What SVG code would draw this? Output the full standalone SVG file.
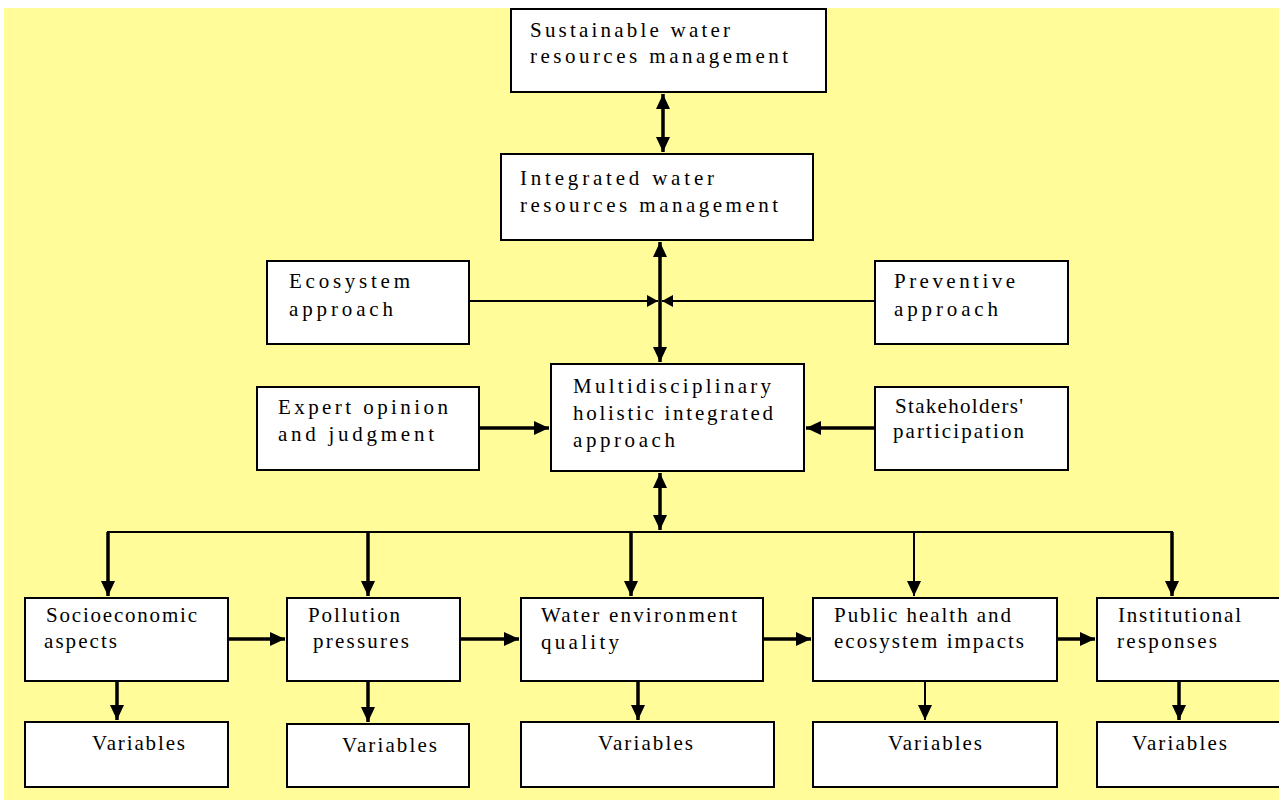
<svg xmlns="http://www.w3.org/2000/svg" width="1279" height="802" viewBox="0 0 1279 802">
<style>
.bg{fill:#FFFC99}
.box{fill:#fff;stroke:#000;stroke-width:2}
.c{stroke:#000;fill:none}
.t3{stroke-width:3.5}
.t2{stroke-width:2}
.lbl{font-family:'Liberation Serif','DejaVu Serif',serif;font-size:21px;fill:#000}
</style>
<defs>
<marker id="ah" markerUnits="userSpaceOnUse" markerWidth="16" markerHeight="14" refX="15" refY="7" orient="auto-start-reverse">
<path d="M0,0 L15,7 L0,14 z" fill="#000"/>
</marker>
<marker id="ahs" markerUnits="userSpaceOnUse" markerWidth="12" markerHeight="12" refX="11" refY="6" orient="auto-start-reverse">
<path d="M0,0 L11,6 L0,12 z" fill="#000"/>
</marker>
</defs>
<rect x="0" y="0" width="1279" height="802" fill="#fff"/>
<rect class="bg" x="4" y="8" width="1275" height="792"/>

<g id="connectors">
<line class="c t3" x1="663" y1="94" x2="663" y2="152" marker-start="url(#ah)" marker-end="url(#ah)"/>
<line class="c t3" x1="660" y1="242" x2="660" y2="362" marker-start="url(#ah)" marker-end="url(#ah)"/>
<line class="c t2" x1="469" y1="301" x2="658" y2="301" marker-end="url(#ahs)"/>
<line class="c t2" x1="875" y1="301" x2="662" y2="301" marker-end="url(#ahs)"/>
<line class="c t3" x1="479" y1="428" x2="549" y2="428" marker-end="url(#ah)"/>
<line class="c t3" x1="875" y1="428" x2="806" y2="428" marker-end="url(#ah)"/>
<line class="c t3" x1="660" y1="473" x2="660" y2="530" marker-start="url(#ah)" marker-end="url(#ah)"/>
<polyline class="c t2" points="108,596 108,532 1172,532 1172,596"/>
<line class="c t3" x1="108" y1="532" x2="108" y2="596" marker-end="url(#ah)"/>
<line class="c t3" x1="368" y1="532" x2="368" y2="596" marker-end="url(#ah)"/>
<line class="c t3" x1="631" y1="532" x2="631" y2="596" marker-end="url(#ah)"/>
<line class="c t2" x1="914" y1="532" x2="914" y2="596" marker-end="url(#ah)"/>
<line class="c t3" x1="1172" y1="532" x2="1172" y2="596" marker-end="url(#ah)"/>
<line class="c t3" x1="228" y1="639" x2="285" y2="639" marker-end="url(#ah)"/>
<line class="c t3" x1="460" y1="639" x2="519" y2="639" marker-end="url(#ah)"/>
<line class="c t3" x1="763" y1="639" x2="811" y2="639" marker-end="url(#ah)"/>
<line class="c t3" x1="1055" y1="639" x2="1095" y2="639" marker-end="url(#ah)"/>
<line class="c t3" x1="117" y1="681" x2="117" y2="720" marker-end="url(#ah)"/>
<line class="c t3" x1="368" y1="681" x2="368" y2="722" marker-end="url(#ah)"/>
<line class="c t3" x1="638" y1="681" x2="638" y2="720" marker-end="url(#ah)"/>
<line class="c t2" x1="925" y1="681" x2="925" y2="720" marker-end="url(#ah)"/>
<line class="c t3" x1="1179" y1="681" x2="1179" y2="720" marker-end="url(#ah)"/>
</g>

<g id="n-swrm">
<rect class="box" x="511" y="9" width="315" height="83"/>
<text class="lbl" x="530" y="37" textLength="200" lengthAdjust="spacing">Sustainable water</text>
<text class="lbl" x="530" y="63" textLength="258" lengthAdjust="spacing">resources management</text>
</g>
<g id="n-iwrm">
<rect class="box" x="501" y="154" width="312" height="86"/>
<text class="lbl" x="520" y="185" textLength="194" lengthAdjust="spacing">Integrated water</text>
<text class="lbl" x="520" y="212" textLength="258" lengthAdjust="spacing">resources management</text>
</g>
<g id="n-eco">
<rect class="box" x="267" y="261" width="202" height="83"/>
<text class="lbl" x="289" y="288" textLength="121" lengthAdjust="spacing">Ecosystem</text>
<text class="lbl" x="289" y="316" textLength="104" lengthAdjust="spacing">approach</text>
</g>
<g id="n-prev">
<rect class="box" x="875" y="261" width="193" height="83"/>
<text class="lbl" x="894" y="288" textLength="121" lengthAdjust="spacing">Preventive</text>
<text class="lbl" x="894" y="316" textLength="104" lengthAdjust="spacing">approach</text>
</g>
<g id="n-multi">
<rect class="box" x="551" y="364" width="253" height="107"/>
<text class="lbl" x="573" y="393" textLength="198" lengthAdjust="spacing">Multidisciplinary</text>
<text class="lbl" x="573" y="420" textLength="200" lengthAdjust="spacing">holistic integrated</text>
<text class="lbl" x="573" y="447" textLength="102" lengthAdjust="spacing">approach</text>
</g>
<g id="n-expert">
<rect class="box" x="257" y="387" width="222" height="83"/>
<text class="lbl" x="278" y="414" textLength="170" lengthAdjust="spacing">Expert opinion</text>
<text class="lbl" x="278" y="441" textLength="156" lengthAdjust="spacing">and judgment</text>
</g>
<g id="n-stake">
<rect class="box" x="875" y="387" width="193" height="83"/>
<text class="lbl" x="895" y="413" textLength="128" lengthAdjust="spacing">Stakeholders'</text>
<text class="lbl" x="893" y="438" textLength="131" lengthAdjust="spacing">participation</text>
</g>
<g id="n-socio">
<rect class="box" x="25" y="598" width="203" height="83"/>
<text class="lbl" x="46" y="622" textLength="151" lengthAdjust="spacing">Socioeconomic</text>
<text class="lbl" x="44" y="648" textLength="73" lengthAdjust="spacing">aspects</text>
</g>
<g id="n-poll">
<rect class="box" x="287" y="598" width="173" height="83"/>
<text class="lbl" x="308" y="622" textLength="92" lengthAdjust="spacing">Pollution</text>
<text class="lbl" x="313" y="648" textLength="96" lengthAdjust="spacing">pressures</text>
</g>
<g id="n-water">
<rect class="box" x="521" y="598" width="242" height="83"/>
<text class="lbl" x="541" y="622" textLength="196" lengthAdjust="spacing">Water environment</text>
<text class="lbl" x="541" y="649" textLength="78" lengthAdjust="spacing">quality</text>
</g>
<g id="n-public">
<rect class="box" x="813" y="598" width="244" height="83"/>
<text class="lbl" x="834" y="622" textLength="177" lengthAdjust="spacing">Public health and</text>
<text class="lbl" x="834" y="648" textLength="190" lengthAdjust="spacing">ecosystem impacts</text>
</g>
<g id="n-inst">
<rect class="box" x="1097" y="598" width="190" height="83"/>
<text class="lbl" x="1118" y="622" textLength="123" lengthAdjust="spacing">Institutional</text>
<text class="lbl" x="1117" y="648" textLength="100" lengthAdjust="spacing">responses</text>
</g>
<g id="n-var1">
<rect class="box" x="25" y="722" width="203" height="65"/>
<text class="lbl" x="92" y="750" textLength="93" lengthAdjust="spacing">Variables</text>
</g>
<g id="n-var2">
<rect class="box" x="287" y="724" width="182" height="63"/>
<text class="lbl" x="342" y="752" textLength="95" lengthAdjust="spacing">Variables</text>
</g>
<g id="n-var3">
<rect class="box" x="521" y="722" width="253" height="65"/>
<text class="lbl" x="598" y="750" textLength="95" lengthAdjust="spacing">Variables</text>
</g>
<g id="n-var4">
<rect class="box" x="813" y="722" width="244" height="65"/>
<text class="lbl" x="888" y="750" textLength="94" lengthAdjust="spacing">Variables</text>
</g>
<g id="n-var5">
<rect class="box" x="1097" y="722" width="190" height="65"/>
<text class="lbl" x="1132" y="750" textLength="95" lengthAdjust="spacing">Variables</text>
</g>
</svg>
